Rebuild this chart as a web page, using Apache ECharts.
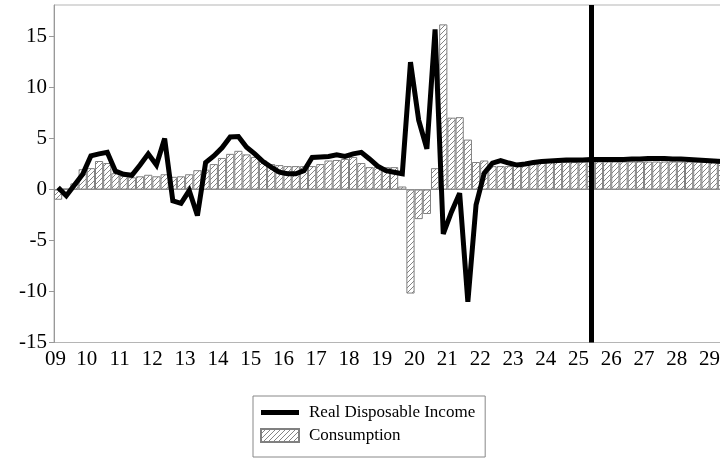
<!DOCTYPE html>
<html><head><meta charset="utf-8">
<script src="https://cdn.jsdelivr.net/npm/echarts@6/dist/echarts.min.js"></script>
<style>html,body{margin:0;padding:0;overflow:hidden;background:#fff}#c{width:728px;height:462px}</style>
</head><body><div id="c"></div>
<script>
// Quarterly categories 2009Q3 .. 2029Q4
const categories = [];
categories.push('2009Q3', '2009Q4');
for (let y = 2010; y <= 2029; y++) for (let q = 1; q <= 4; q++) categories.push(y + 'Q' + q);

const consumption = [
  -1.0, 0.1, 0.6, 2.0, 2.1, 2.8, 2.6, 1.6, 1.35, 1.2,
  1.3, 1.45, 1.3, 1.5, 1.25, 1.3, 1.5, 1.9, 1.95, 2.5,
  3.1, 3.5, 3.8, 3.45, 3.2, 2.85, 2.5, 2.4, 2.3, 2.3,
  2.3, 2.3, 2.5, 2.85, 2.9, 3.0, 3.2, 2.6, 2.2, 2.2,
  2.2, 2.2, 0.3, -10.2, -2.9, -2.4, 2.1, 16.2, 7.05, 7.1,
  4.9, 2.7, 2.85, 2.3, 2.3, 2.3, 2.45, 2.5, 2.6, 2.65,
  2.7, 2.7, 2.7, 2.7, 2.75, 2.75, 2.75, 2.75, 2.75, 2.75,
  2.75, 2.75, 2.75, 2.75, 2.75, 2.75, 2.75, 2.75, 2.75, 2.75,
  2.75, 2.75
];
const realDisposableIncome = [
  0.2, -0.6, 0.45, 1.5, 3.3, 3.5, 3.65, 1.8, 1.5, 1.4,
  2.4, 3.5, 2.4, 5.0, -1.1, -1.35, -0.1, -2.55, 2.65, 3.3,
  4.1, 5.15, 5.2, 4.15, 3.5, 2.75, 2.2, 1.7, 1.55, 1.55,
  1.85, 3.15, 3.2, 3.25, 3.4, 3.25, 3.5, 3.65, 3.0, 2.3,
  1.85, 1.7, 1.55, 12.5, 6.8, 4.0, 15.7, -4.35, -2.2, -0.35,
  -11.0, -1.5, 1.6, 2.6, 2.85, 2.6, 2.4, 2.5, 2.65, 2.75,
  2.8, 2.85, 2.9, 2.9, 2.9, 2.95, 2.95, 2.95, 2.95, 2.95,
  3.0, 3.0, 3.05, 3.05, 3.05, 3.0, 3.0, 2.95, 2.9, 2.85,
  2.8, 2.75
];
const yTicks = [-15, -10, -5, 0, 5, 10, 15];
const forecastStart = '2025Q4';

function hatch() {
  const s = 5;
  const c = document.createElement('canvas');
  c.width = s; c.height = s;
  const g = c.getContext('2d');
  g.fillStyle = '#ffffff'; g.fillRect(0, 0, s, s);
  g.strokeStyle = '#858585'; g.lineWidth = 1;
  g.beginPath();
  g.moveTo(0, s); g.lineTo(s, 0);
  g.moveTo(-1, 1); g.lineTo(1, -1);
  g.moveTo(s - 1, s + 1); g.lineTo(s + 1, s - 1);
  g.stroke();
  return c;
}

const serif = 'Liberation Serif';
const chart = echarts.init(document.getElementById('c'), null, {renderer: 'canvas'});
chart.setOption({
  animation: false,
  backgroundColor: '#fff',
  grid: {left: 54, top: 5, right: 2, bottom: 119.5, show: true, borderColor: '#b5b5b5', borderWidth: 1},
  legend: {
    left: 253, top: 396, orient: 'vertical',
    itemWidth: 38, itemHeight: 13, itemGap: 6,
    padding: [8, 10, 13, 7],
    borderColor: '#888', borderWidth: 1,
    symbolKeepAspect: true,
    textStyle: {fontFamily: serif, fontSize: 17, color: '#000', padding: [0, 0, 0, 5]},
    data: [
      {name: 'Real Disposable Income', icon: 'path://M0,0H38V5H0Z', itemStyle: {color: '#000', borderWidth: 0}},
      {name: 'Consumption', icon: 'rect'}
    ]
  },
  xAxis: {
    type: 'category', data: categories, boundaryGap: true,
    axisLine: {lineStyle: {color: '#999'}},
    axisTick: {interval: (i, v) => String(v).endsWith('Q1'), length: 6, lineStyle: {color: '#999'}},
    axisLabel: {
      interval: (i, v) => i === 0 || String(v).endsWith('Q2'),
      margin: 6,
      formatter: (v, i) => (i === 0 ? '{a|' : '{b|') + String(v).slice(2, 4) + '}',
      rich: {
        a: {padding: [0, 5, 0, 0], fontSize: 21, fontFamily: serif, color: '#000'},
        b: {padding: [0, 0, 0, 8.2], fontSize: 21, fontFamily: serif, color: '#000'}
      }
    }
  },
  yAxis: {
    type: 'value', min: -15, max: 18.1, interval: 5,
    axisLine: {show: true, lineStyle: {color: '#999'}},
    axisTick: {show: true, length: 5, lineStyle: {color: '#999'}},
    splitLine: {show: false},
    axisLabel: {
      showMaxLabel: false, margin: 7, fontSize: 21, fontFamily: serif, color: '#000',
      formatter: v => (yTicks.indexOf(v) >= 0 ? String(v) : '')
    }
  },
  series: [
    {
      type: 'bar', name: 'Consumption', data: consumption,
      barCategoryGap: '0%',
      itemStyle: {color: {image: hatch(), repeat: 'repeat'}, borderColor: '#808080', borderWidth: 1}
    },
    {
      type: 'line', name: 'Real Disposable Income', data: realDisposableIncome,
      symbol: 'none', z: 3,
      itemStyle: {color: '#000'},
      lineStyle: {color: '#000', width: 5, join: 'miter', miterLimit: 4},
      markLine: {
        silent: true, symbol: ['none', 'none'],
        label: {show: false},
        lineStyle: {color: '#000', width: 5, type: 'solid'},
        data: [{xAxis: forecastStart}]
      }
    }
  ]
});
</script>
</body></html>
